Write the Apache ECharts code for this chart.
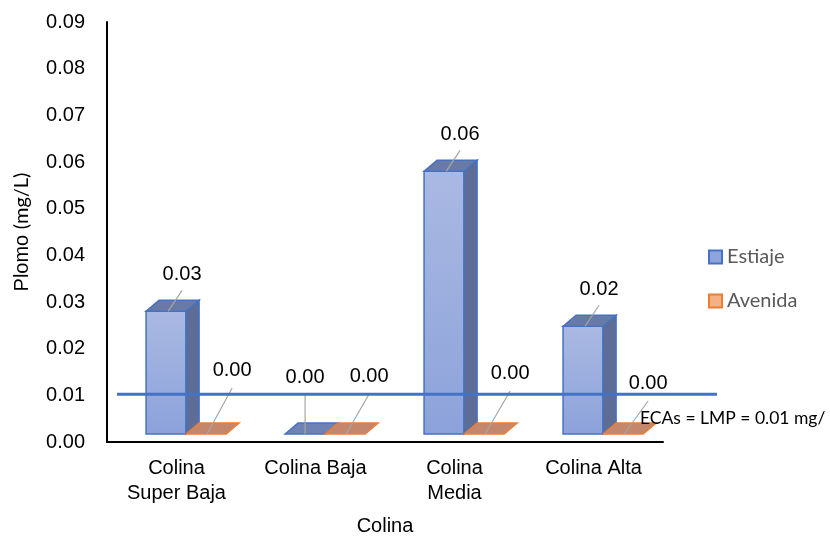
<!DOCTYPE html>
<html>
<head>
<meta charset="utf-8">
<script src="https://cdn.jsdelivr.net/npm/echarts@6/dist/echarts.min.js"></script>
<style>
  html, body { margin: 0; padding: 0; background: #fff; }
  #chart { width: 830px; height: 538px; }
</style>
</head>
<body>
<div id="chart"></div>
<script>
// Lead concentration per hill zone, dry season vs wet season
const categories = ['Colina\nSuper Baja', 'Colina Baja', 'Colina\nMedia', 'Colina Alta'];
const estiaje = [0.028, 0.0, 0.058, 0.0248];
const avenida = [0.0, 0.0, 0.0, 0.0];
const limitValue = 0.01;
const limitText = 'ECAs = LMP = 0.01 mg/';
const yTicks = { min: 0, max: 0.09, interval: 0.01 };

// Layout of the pseudo-3D columns
const DEPTH_X = 13, DEPTH_Y = -11, FLOOR_LIFT = 8;
const FONT = '20px "Liberation Sans", Arial, sans-serif';
const styles = [
  { front: ['#AAB9E3', '#8CA2DA'], side: '#5D6D95', top: '#6A7AA6', flat: '#6F82B4', border: '#4472C4' },
  { front: ['#F4B183', '#F4B183'], side: '#B86A3C', top: '#C4876C', flat: '#C4876C', border: '#ED7D31' }
];
// Label placement for the value tags (dx, lift) on zero-height columns
const zeroLabel = [
  [[0, 57], [0, 57], [0, 57], [0, 57]],
  [[26, 64], [24, 58], [26, 61], [25, 51]]
];

function columnRenderer(s) {
  return function (params, api) {
    const i = api.value(0), v = api.value(1);
    const band = api.size([1, 0])[0];
    const center = api.coord([i, 0])[0];
    const w = 0.288 * band;
    const x0 = center - 0.219 * band + s * w;
    const x1 = x0 + w;
    const yBase = api.coord([i, 0])[1] - FLOOR_LIFT;
    const yTop = v > 0 ? api.coord([i, v])[1] : yBase;
    const st = styles[s];
    const children = [];
    const fc = (x0 + x1) / 2;
    if (v > 0) {
      children.push({
        type: 'rect',
        shape: { x: x0, y: yTop, width: w, height: yBase - yTop },
        style: {
          fill: new echarts.graphic.LinearGradient(0, 0, 0, 1, [
            { offset: 0, color: st.front[0] }, { offset: 1, color: st.front[1] }
          ]),
          stroke: st.border, lineWidth: 1.5
        }
      });
      children.push({
        type: 'polygon',
        shape: { points: [[x1, yTop], [x1 + DEPTH_X, yTop + DEPTH_Y], [x1 + DEPTH_X, yBase + DEPTH_Y], [x1, yBase]] },
        style: { fill: st.side, stroke: st.border, lineWidth: 1.5 }
      });
      children.push({
        type: 'polygon',
        shape: { points: [[x0, yTop], [x0 + DEPTH_X, yTop + DEPTH_Y], [x1 + DEPTH_X, yTop + DEPTH_Y], [x1, yTop]] },
        style: { fill: st.top, stroke: st.border, lineWidth: 1.5 }
      });
      // value tag with leader line
      children.push({
        type: 'line',
        shape: { x1: fc + 2, y1: yTop, x2: fc + 16, y2: yTop - 21 },
        style: { stroke: '#A6A6A6', lineWidth: 1.2 }
      });
      children.push({
        type: 'text',
        style: {
          x: fc + 16, y: yTop - 37, text: v.toFixed(2),
          fill: '#000', font: FONT, align: 'center', verticalAlign: 'middle'
        }
      });
    } else {
      children.push({
        type: 'polygon',
        shape: { points: [[x0, yBase], [x0 + DEPTH_X, yBase + DEPTH_Y], [x1 + DEPTH_X, yBase + DEPTH_Y], [x1, yBase]] },
        style: { fill: st.flat, stroke: st.border, lineWidth: 1.5 }
      });
      const [dx, lift] = zeroLabel[s][i];
      children.push({
        type: 'line',
        shape: { x1: fc + (dx ? 1 : 0), y1: yBase, x2: fc + dx, y2: yBase - lift + 18 },
        style: { stroke: '#A6A6A6', lineWidth: 1.2 }
      });
      children.push({
        type: 'text',
        style: {
          x: fc + dx, y: yBase - lift, text: v.toFixed(2),
          fill: '#000', font: FONT, align: 'center', verticalAlign: 'middle'
        }
      });
    }
    return { type: 'group', children: children };
  };
}

const chart = echarts.init(document.getElementById('chart'), null, { renderer: 'canvas' });

chart.setOption({
  animation: false,
  backgroundColor: '#ffffff',
  grid: { left: 107, right: 167, top: 22, bottom: 96, containLabel: false, outerBoundsMode: 'none' },
  legend: {
    orient: 'vertical',
    left: 703,
    top: 242,
    itemWidth: 13,
    itemHeight: 13,
    itemGap: 24,
    textStyle: { color: '#595959', fontSize: 20, fontFamily: 'Lato, "Open Sans", sans-serif' },
    data: [
      { name: 'Estiaje', icon: 'rect', itemStyle: { color: '#8FA4DB', borderColor: '#4472C4', borderWidth: 2 } },
      { name: 'Avenida', icon: 'rect', itemStyle: { color: '#F4B183', borderColor: '#ED7D31', borderWidth: 2 } }
    ]
  },
  xAxis: {
    type: 'category',
    data: categories,
    name: 'Colina',
    nameLocation: 'middle',
    nameGap: 74,
    nameTextStyle: { color: '#000', fontSize: 20, fontFamily: '"Liberation Sans", Arial, sans-serif' },
    axisLine: { lineStyle: { color: '#000', width: 2 } },
    axisTick: { show: false },
    axisLabel: {
      color: '#000', fontSize: 20, fontFamily: '"Liberation Sans", Arial, sans-serif',
      margin: 14, lineHeight: 25, interval: 0
    },
    splitLine: { show: false }
  },
  yAxis: {
    type: 'value',
    min: yTicks.min,
    max: yTicks.max,
    interval: yTicks.interval,
    name: '{a|Plomo }{b|(mg/L)}',
    nameLocation: 'middle',
    nameGap: 75,
    nameRotate: 90,
    nameTextStyle: {
      rich: {
        a: { color: '#000', fontSize: 20, fontFamily: '"Liberation Sans", Arial, sans-serif' },
        b: { color: '#000', fontSize: 20, fontFamily: 'Lato, "Open Sans", sans-serif' }
      }
    },
    axisLine: { show: true, lineStyle: { color: '#000', width: 2 } },
    axisTick: { show: false },
    splitLine: { show: false },
    axisLabel: {
      color: '#000', fontSize: 20, fontFamily: '"Liberation Sans", Arial, sans-serif',
      margin: 22,
      formatter: v => v.toFixed(2)
    }
  },
  series: [
    {
      name: 'Estiaje',
      type: 'custom',
      renderItem: columnRenderer(0),
      encode: { x: 0, y: 1 },
      clip: false,
      itemStyle: { color: '#8FA4DB', borderColor: '#4472C4' },
      data: estiaje.map((v, i) => [i, v]),
      z: 2
    },
    {
      name: 'Avenida',
      type: 'custom',
      renderItem: columnRenderer(1),
      encode: { x: 0, y: 1 },
      clip: false,
      itemStyle: { color: '#F4B183', borderColor: '#ED7D31' },
      data: avenida.map((v, i) => [i, v]),
      z: 2
    },
    {
      name: 'limit',
      type: 'custom',
      clip: false,
      z: 5,
      encode: { x: 0, y: 1 },
      data: [[0, limitValue]],
      renderItem: function (params, api) {
        const y = api.coord([0, api.value(1)])[1] - 1;
        const left = params.coordSys.x + 10;
        const right = params.coordSys.x + params.coordSys.width + 54;
        return {
          type: 'group',
          children: [
            { type: 'line', shape: { x1: left, y1: y, x2: right, y2: y },
              style: { stroke: '#4472C4', lineWidth: 3 } },
            { type: 'text', style: {
                x: right - 77, y: y + 24, text: limitText,
                fill: '#000', font: '17.5px Lato, "Open Sans", sans-serif',
                align: 'left', verticalAlign: 'middle' } }
          ]
        };
      }
    }
  ]
});
</script>
</body>
</html>
